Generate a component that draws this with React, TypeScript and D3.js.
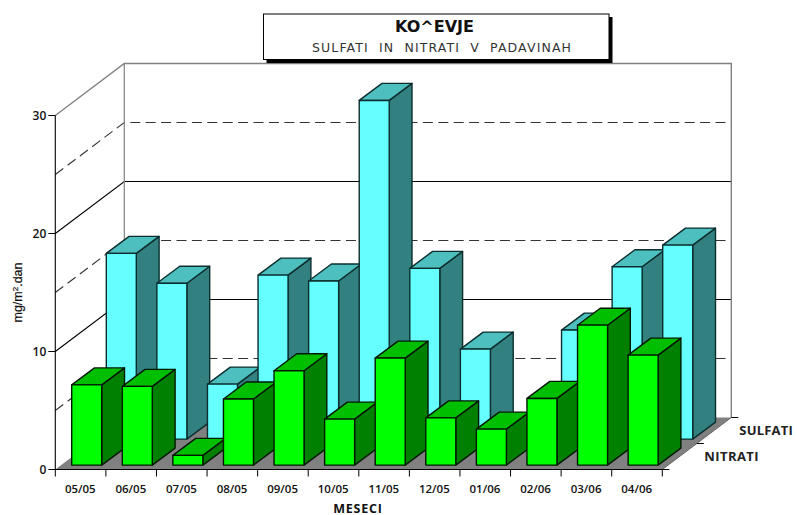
import React from "react";
import * as d3 from "d3";

const categories = ["05/05","06/05","07/05","08/05","09/05","10/05","11/05","12/05","01/06","02/06","03/06","04/06"];
const sulfati = [15.74,13.2,4.66,13.9,13.4,28.7,14.47,7.63,0,9.24,14.6,16.44];
const nitrati = [6.8,6.67,0.82,5.6,8.0,3.9,9.07,4.0,3.05,5.65,11.86,9.32];
const yTicks = [0,10,20,30];
const solidGrid = [10,20];
const dashedGrid = [5,15,25];
const seriesNames = ["NITRATI","SULFATI"];

const W = 797, H = 515;
const x = d3.scaleBand<string>().domain(categories).range([55.3, 662.3]);
const y = d3.scaleLinear().domain([0, 30]).range([469.5, 115.5]);
const DX = 69, DY = -52;
const BAR = 30, BD = 22.8, BDY = -17;
const pts = (a: number[][]) => a.map(p => p.map(n => n.toFixed(1)).join(",")).join(" ");
const FONT = "'Open Sans', 'Noto Sans', sans-serif";

type Layer = { values: number[]; dx: number; dy: number; front: string; top: string; side: string; stroke: string };
const layers: Layer[] = [
  { values: sulfati, dx: 51, dy: -30.4, front: "#66FFFF", top: "#4DBFBF", side: "#338080", stroke: "#0C2E2E" },
  { values: nitrati, dx: 16.4, dy: -4.4, front: "#00FF00", top: "#00BF00", side: "#008000", stroke: "#001800" },
];

function Bars({ l }: { l: Layer }) {
  return <g stroke={l.stroke} strokeWidth={1.4} strokeLinejoin="round">
    {l.values.map((v, i) => {
      if (v <= 0) return null;
      const x0 = x(categories[i])! + l.dx;
      const x1 = x0 + BAR;
      const b = y(0) + l.dy;
      const t = b - (y(0) - y(v));
      return <g key={i}>
        <polygon fill={l.side} points={pts([[x1,t],[x1+BD,t+BDY],[x1+BD,b+BDY],[x1,b]])} />
        <polygon fill={l.top} points={pts([[x0,t],[x0+BD,t+BDY],[x1+BD,t+BDY],[x1,t]])} />
        <rect fill={l.front} x={x0} y={t} width={BAR} height={b - t} />
      </g>;
    })}
  </g>;
}

export default function App() {
  const xL = x.range()[0], xR = x.range()[1];
  return <svg width={W} height={H} style={{ position: "absolute", left: 0, top: 0, background: "#fff" }} fontFamily={FONT}>
    <polygon fill="#808080" points={pts([[xL,y(0)],[xR,y(0)],[xR+DX,y(0)+DY],[xL+DX,y(0)+DY]])} />
    {solidGrid.map(v => <polyline key={v} fill="none" stroke="#000" strokeWidth={1.1} points={pts([[xL,y(v)],[xL+DX,y(v)+DY],[xR+DX,y(v)+DY]])} />)}
    {dashedGrid.map(v => <polyline key={v} fill="none" stroke="#333" strokeWidth={1.1} strokeDasharray="10 5.4" points={pts([[xL,y(v)],[xL+DX,y(v)+DY],[xR+DX,y(v)+DY]])} />)}
    <polyline fill="none" stroke="#808080" strokeWidth={1.4} points={pts([[xL,y(30)],[xL+DX,y(30)+DY],[xR+DX,y(30)+DY],[xR+DX,y(0)+DY]])} />
    <line x1={xL+DX} x2={xL+DX} y1={y(30)+DY} y2={y(0)+DY} stroke="#808080" strokeWidth={1.2} />
    {layers.map((l, i) => <Bars key={i} l={l} />)}

    <line x1={xL} x2={xL} y1={y(30)} y2={y(0)} stroke="#000" strokeWidth={1.1} />
    <line x1={xL} x2={xR} y1={y(0)} y2={y(0)} stroke="#000" strokeWidth={1.1} />
    {yTicks.map(v => <g key={v}>
      <line x1={xL-7} x2={xL} y1={y(v)} y2={y(v)} stroke="#000" />
      <text x={xL-9} y={y(v)+4.5} textAnchor="end" fontSize={12} fontWeight={600} fill="#111">{v}</text>
    </g>)}
    {d3.range(categories.length + 1).map(i => {
      const tx = xL + i * x.step();
      return <line key={i} x1={tx} x2={tx} y1={y(0)} y2={y(0)+7} stroke="#000" />;
    })}
    {categories.map(c => <text key={c} x={x(c)! + x.step()/2 - 0.3} y={493} textAnchor="middle" fontSize={11.5} fontWeight={600} fill="#111">{c}</text>)}
    <text x={358} y={512.5} textAnchor="middle" fontSize={12.5} fontWeight={700} fill="#111" letterSpacing={0.8}>MESECI</text>
    <text transform="translate(21.5,292.5) rotate(-90)" textAnchor="middle" fontSize={12.5} fontFamily="'Liberation Sans', sans-serif" fill="#111" stroke="#111" strokeWidth={0.2}>mg/m<tspan dy={-4} fontSize={8}>2</tspan><tspan dy={4}>.dan</tspan></text>

    <line x1={xR} x2={xR+DX} y1={y(0)} y2={y(0)+DY} stroke="#666" />
    {[0,0.5,1].map(f => <line key={f} x1={xR+DX*f} x2={xR+DX*f+7} y1={y(0)+DY*f} y2={y(0)+DY*f} stroke="#000" />)}
    <text x={xR+DX*0.5+7.5} y={461} fontSize={13} fontWeight={700} fill="#222" letterSpacing={0.4}>{seriesNames[0]}</text>
    <text x={xR+DX+8} y={435} fontSize={13} fontWeight={700} fill="#222" letterSpacing={0.2}>{seriesNames[1]}</text>

    <rect x={266.5} y={17} width={346} height={46} fill="#000" />
    <rect x={263.5} y={14} width={345.5} height={45.5} fill="#fff" stroke="#000" strokeWidth={1} />
    <text x={434.5} y={31.5} textAnchor="middle" fontSize={16} fontWeight={700} fontFamily="'DejaVu Sans', sans-serif" fill="#111">KO^EVJE</text>
    <text x={312} y={52} fontSize={12.5} fill="#333" fontFamily="'DejaVu Sans', sans-serif" textLength={259} lengthAdjust="spacing" style={{ whiteSpace: "pre" }}>SULFATI  IN  NITRATI  V  PADAVINAH</text>
  </svg>;
}
